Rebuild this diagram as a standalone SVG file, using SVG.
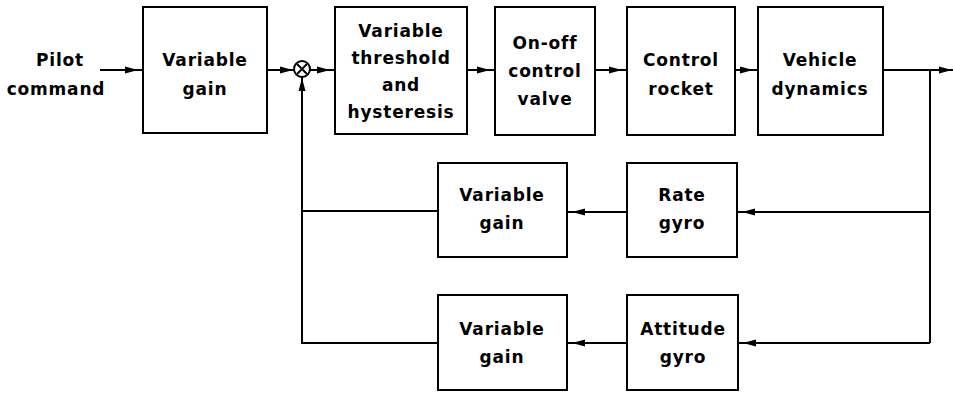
<svg xmlns="http://www.w3.org/2000/svg" width="954" height="393" viewBox="0 0 954 393">
<defs>
<style>
.box{fill:#fff;stroke:#000;stroke-width:2}
.ln{fill:none;stroke:#000;stroke-width:2}
text{font-family:"DejaVu Sans","Liberation Sans",sans-serif;font-weight:bold;font-size:17px;letter-spacing:0.8px;text-anchor:middle;fill:#000}
</style>
<marker id="arr" markerUnits="userSpaceOnUse" viewBox="0 0 20 8" markerWidth="20" markerHeight="8" refX="18" refY="4" orient="auto" overflow="visible"><path d="M0,0.5 L13,4 L0,7.5 z" fill="#000"/></marker>
<marker id="arrT" markerUnits="userSpaceOnUse" viewBox="0 0 20 8" markerWidth="20" markerHeight="8" refX="14" refY="4" orient="auto" overflow="visible"><path d="M0,0.5 L13,4 L0,7.5 z" fill="#000"/></marker>
</defs>
<rect width="954" height="393" fill="#fff"/>
<g id="connectors">
<path class="ln" d="M100,70 H143" marker-end="url(#arr)"/>
<path class="ln" d="M267,70 H294" marker-end="url(#arrT)"/>
<path class="ln" d="M310,70 H335" marker-end="url(#arr)"/>
<path class="ln" d="M467,70 H495" marker-end="url(#arr)"/>
<path class="ln" d="M595,70 H627" marker-end="url(#arr)"/>
<path class="ln" d="M735,70 H758" marker-end="url(#arr)"/>
<path class="ln" d="M883,70 H953" marker-end="url(#arrT)"/>
<path class="ln" d="M930,70 V343"/>
<path class="ln" d="M930,212 H737" marker-end="url(#arr)"/>
<path class="ln" d="M930,343 H738" marker-end="url(#arr)"/>
<path class="ln" d="M627,212 H567" marker-end="url(#arr)"/>
<path class="ln" d="M627,343 H567" marker-end="url(#arr)"/>
<path class="ln" d="M438,211 H302"/>
<path class="ln" d="M438,343 H302 V77" marker-end="url(#arrT)"/>
</g>
<g id="pilot-command">
<text x="60" y="66">Pilot</text>
<text x="56" y="95">command</text>
</g>
<g id="variable-gain-1">
<rect class="box" x="143" y="7" width="124" height="126"/>
<text x="205" y="66">Variable</text>
<text x="205" y="95">gain</text>
</g>
<g id="summing-junction">
<circle cx="302" cy="69" r="8" fill="#fff" stroke="#000" stroke-width="2"/>
<path class="ln" d="M297,64 L307,74 M307,64 L297,74"/>
</g>
<g id="threshold">
<rect class="box" x="335" y="7" width="132" height="127"/>
<text x="401" y="37">Variable</text>
<text x="401" y="64">threshold</text>
<text x="401" y="91">and</text>
<text x="401" y="118">hysteresis</text>
</g>
<g id="on-off-valve">
<rect class="box" x="495" y="7" width="100" height="128"/>
<text x="545" y="49">On-off</text>
<text x="545" y="77">control</text>
<text x="545" y="105">valve</text>
</g>
<g id="control-rocket">
<rect class="box" x="627" y="7" width="108" height="128"/>
<text x="681" y="66">Control</text>
<text x="681" y="95">rocket</text>
</g>
<g id="vehicle-dynamics">
<rect class="box" x="758" y="7" width="125" height="128"/>
<text x="820" y="66">Vehicle</text>
<text x="820" y="95">dynamics</text>
</g>
<g id="variable-gain-2">
<rect class="box" x="438" y="163" width="129" height="94"/>
<text x="502" y="201">Variable</text>
<text x="502" y="229">gain</text>
</g>
<g id="rate-gyro">
<rect class="box" x="627" y="163" width="110" height="94"/>
<text x="682" y="201">Rate</text>
<text x="682" y="229">gyro</text>
</g>
<g id="variable-gain-3">
<rect class="box" x="438" y="295" width="129" height="95"/>
<text x="502" y="335">Variable</text>
<text x="502" y="363">gain</text>
</g>
<g id="attitude-gyro">
<rect class="box" x="627" y="295" width="111" height="95"/>
<text x="683" y="335">Attitude</text>
<text x="683" y="363">gyro</text>
</g>
</svg>
